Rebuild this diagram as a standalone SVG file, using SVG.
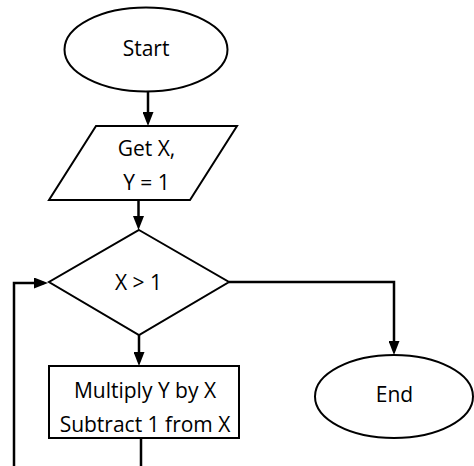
<svg xmlns="http://www.w3.org/2000/svg" width="474" height="466" viewBox="0 0 474 466">
  <style>
    .shape { fill: #ffffff; stroke: #000000; stroke-width: 2; }
    .label { font-family: "Open Sans", "Liberation Sans", sans-serif; font-size: 21px; fill: #000000; text-anchor: middle; }
    .link { fill: none; stroke: #000000; stroke-width: 2.5; }
  </style>
  <defs>
    <marker id="arrow" markerUnits="userSpaceOnUse" markerWidth="14" markerHeight="11" refX="10" refY="5.5" orient="auto">
      <path d="M0,0 L14,5.5 L0,11 z" fill="#000000"/>
    </marker>
  </defs>

  <rect width="474" height="466" fill="#ffffff"/>

  <!-- connectors -->
  <g id="connectors">
    <path class="link" d="M148 92 L148 122" marker-end="url(#arrow)"/>
    <path class="link" d="M138.5 200 L138.5 226" marker-end="url(#arrow)"/>
    <path class="link" d="M139 335 L139 362" marker-end="url(#arrow)"/>
    <path class="link" d="M229 282 L394 282 L394 351" marker-end="url(#arrow)"/>
    <path class="link" d="M141 438 L141 480 L14 480 L14 283 L44 283" marker-end="url(#arrow)"/>
  </g>

  <!-- start terminator -->
  <g id="start">
    <ellipse class="shape" cx="146" cy="49.5" rx="81.5" ry="42"/>
    <text class="label" x="146" y="55.5">Start</text>
  </g>

  <!-- input: X and Y -->
  <g id="input">
    <polygon class="shape" points="96,126 237,126 190,200 49,200"/>
    <text class="label" x="146.5" y="155.5">Get X,</text>
    <text class="label" x="146.5" y="189.5">Y = 1</text>
  </g>

  <!-- loop condition -->
  <g id="decision">
    <polygon class="shape" points="139,230 229,282 139,335 49,282"/>
    <text class="label" x="138.5" y="289.5">X &gt; 1</text>
  </g>

  <!-- loop body -->
  <g id="process">
    <rect class="shape" x="49" y="366" width="190" height="72"/>
    <text class="label" x="145" y="397.5">Multiply Y by X</text>
    <text class="label" x="145" y="431.5">Subtract 1 from X</text>
  </g>

  <!-- end terminator -->
  <g id="end">
    <ellipse class="shape" cx="394" cy="396.5" rx="79" ry="41.5"/>
    <text class="label" x="394.5" y="401.5">End</text>
  </g>
</svg>
